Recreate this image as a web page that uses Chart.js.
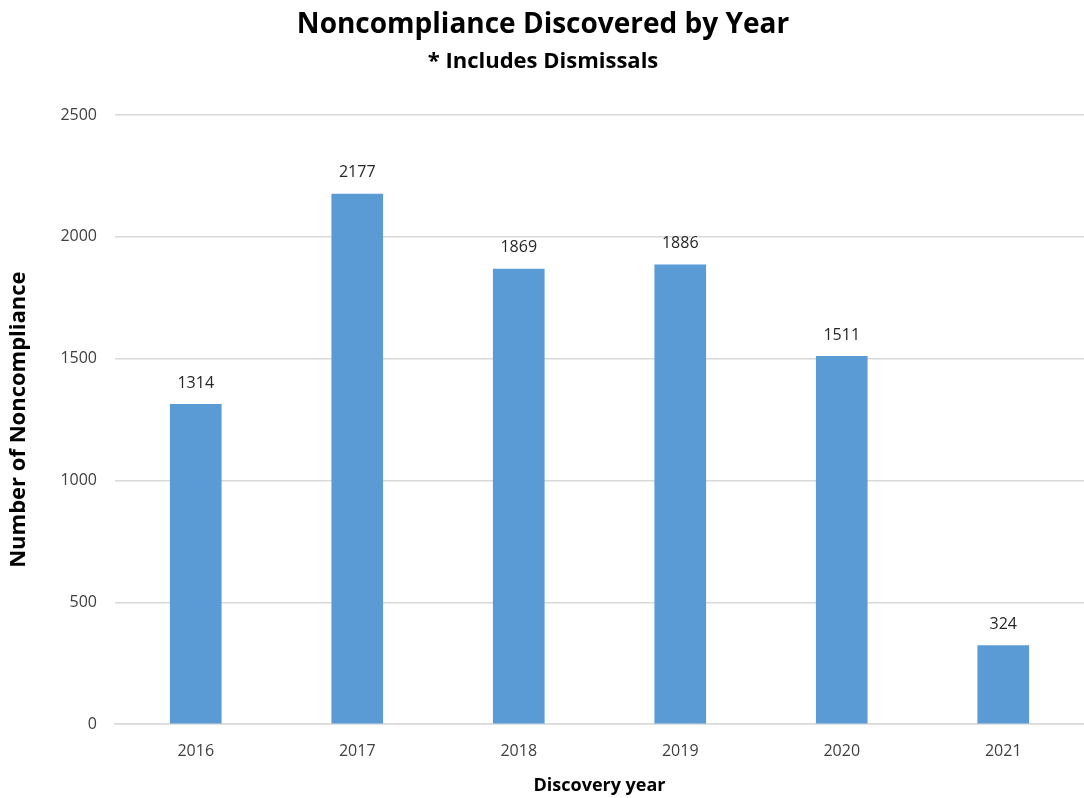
<!DOCTYPE html>
<html>
<head>
<meta charset="utf-8">
<script src="https://cdn.jsdelivr.net/npm/chart.js@4"></script>
<style>
  body { margin: 0; background: #fff; }
  #wrap { width: 1084px; height: 798px; }
</style>
</head>
<body>
<div id="wrap"><canvas id="myChart"></canvas></div>
<script>
var years = ["2016", "2017", "2018", "2019", "2020", "2021"];
var counts = [1314, 2177, 1869, 1886, 1511, 324];
var yTicks = [0, 500, 1000, 1500, 2000, 2500];

var fontName = "'Open Sans', 'Liberation Sans', sans-serif";

// write the value above each bar
var valueLabels = {
  id: "valueLabels",
  afterDatasetsDraw: function (chart) {
    var ctx = chart.ctx;
    var meta = chart.getDatasetMeta(0);
    ctx.save();
    ctx.font = "16px " + fontName;
    ctx.fillStyle = "#262626";
    ctx.textAlign = "center";
    ctx.textBaseline = "bottom";
    meta.data.forEach(function (bar, i) {
      ctx.fillText(counts[i], bar.x, bar.y - 13);
    });
    ctx.restore();
  }
};

new Chart("myChart", {
  type: "bar",
  data: {
    labels: years,
    datasets: [
      {
        backgroundColor: "#5b9bd5",
        data: counts,
        barPercentage: 0.32,
        categoryPercentage: 1
      }
    ]
  },
  options: {
    responsive: true,
    maintainAspectRatio: false,
    animation: false,
    layout: { padding: { left: 2, right: 0, top: 0, bottom: 0 } },
    scales: {
      y: {
        min: 0,
        max: 2500,
        afterBuildTicks: function (axis) {
          axis.ticks = yTicks.map(function (v) { return { value: v }; });
        },
        border: { display: false },
        grid: { color: "#d9d9d9", lineWidth: 1.5, drawTicks: false },
        ticks: {
          color: "#404040",
          font: { size: 16, family: fontName },
          padding: 18,
          callback: function (v) { return String(v); }
        },
        title: {
          display: true,
          text: "Number of Noncompliance",
          color: "#000",
          font: { size: 22, weight: "bold", family: fontName },
          padding: { bottom: 10 }
        }
      },
      x: {
        border: { color: "#d9d9d9", width: 1.5 },
        grid: { display: false },
        ticks: {
          color: "#404040",
          font: { size: 16, family: fontName },
          padding: 10
        },
        title: {
          display: true,
          text: "Discovery year",
          color: "#000",
          font: { size: 18, weight: "bold", family: fontName },
          padding: { top: 4, bottom: 1 }
        }
      }
    },
    plugins: {
      legend: { display: false },
      tooltip: { enabled: false },
      title: {
        display: true,
        text: "Noncompliance Discovered by Year",
        color: "#000",
        font: { size: 28, weight: "bold", family: fontName },
        padding: { top: 8, bottom: 2 }
      },
      subtitle: {
        display: true,
        text: "* Includes Dismissals",
        color: "#000",
        font: { size: 22, weight: "bold", family: fontName },
        padding: { top: 5, bottom: 40 }
      }
    }
  },
  plugins: [valueLabels]
});
</script>
</body>
</html>
